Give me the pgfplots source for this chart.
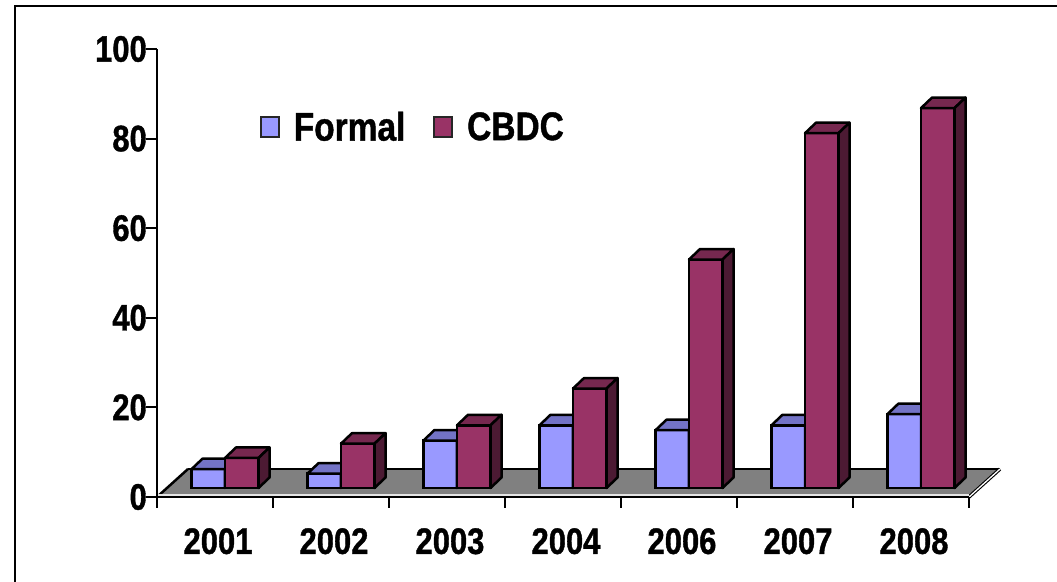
\documentclass[border=0pt]{standalone}
\usepackage{pgfplots}
\usepackage{pgfplotstable}
\pgfplotsset{compat=1.18}
\usepackage{fontspec}
\setmainfont{Liberation Sans}[FakeStretch=0.84, BoldFeatures={FakeBold=1}]
\definecolor{formalfront}{HTML}{9999FF}
\definecolor{formaltop}{HTML}{7373C6}
\definecolor{formalside}{HTML}{4D4D80}
\definecolor{cbdcfront}{HTML}{993366}
\definecolor{cbdctop}{HTML}{76284F}
\definecolor{cbdcside}{HTML}{4C1A33}
\definecolor{floorgray}{HTML}{808080}
\pgfdeclareplotmark{blank}{}
\pgfplotstableread{
x formal cbdc
0.5 4.2 6.7
1.5 3.2 9.9
2.5 10.6 14.0
3.5 14.0 22.2
4.5 12.9 51.0
5.5 14.0 79.2
6.5 16.5 84.8
}\data
\newcommand{\chartfont}{\bfseries\fontsize{37}{40}\selectfont}
\newcommand{\legendfont}{\bfseries\fontsize{40}{42}\selectfont}
\pgfplotsset{
  bar3d/.style n args={3}{%
    forget plot, only marks, mark=blank, scatter,
    point meta=explicit symbolic,
    scatter/@pre marker code/.code={%
      \edef\ry{\pgfplotspointmeta}%
      \filldraw[fill=#1, draw=black, line width=2.5bp, line join=round]
        (-16.75bp,0pt) rectangle (16.75bp,{-\ry*4.48bp});
      \filldraw[fill=#2, draw=black, line width=2.5bp, line join=round]
        (-16.75bp,0pt) -- (-5.75bp,10.5bp) -- (27.75bp,10.5bp) -- (16.75bp,0pt) -- cycle;
      \filldraw[fill=#3, draw=black, line width=2.5bp, line join=round]
        (16.75bp,0pt) -- (27.75bp,10.5bp) -- (27.75bp,{10.5bp-\ry*4.48bp}) -- (16.75bp,{-\ry*4.48bp}) -- cycle;
    },
    scatter/@post marker code/.code={},
  },
  sqlegend/.style={legend image code/.code={%
      \draw[##1, draw=black!85, line width=1.8bp] (0bp,-10bp) rectangle (18bp,10bp);}},
}
\begin{document}
\begin{tikzpicture}
\draw[line width=2.7bp] (15bp,-5bp) -- (15bp,576bp) -- (1065bp,576bp);
\begin{axis}[
  at={(157bp,85bp)}, anchor=south west,
  x=116bp, y=4.48bp,
  xmin=0, xmax=7, ymin=0, ymax=100,
  axis lines=left, axis line style={-, line width=2bp},
  axis on top,
  clip=false,
  tick align=outside,
  major tick length=11bp,
  tick style={line width=2bp, black},
  xtick={0,...,7}, x tick label as interval,
  xticklabels={2001,2002,2003,2004,2006,2007,2008},
  ytick={0,20,...,100}, yticklabels={0,20,40,60,80,100},
  ticklabel style={font=\chartfont, inner sep=0pt},
  xticklabel style={yshift=-20bp, xshift=3bp},
  yticklabel style={xshift=1bp},
]
\fill[floorgray] (axis cs:0,0) -- (axis cs:7,0) -- ([shift={(31bp,28bp)}]axis cs:7,0) -- ([shift={(31bp,28bp)}]axis cs:0,0) -- cycle;
\draw[black, line width=2bp] ([shift={(31bp,28bp)}]axis cs:0,0) -- ([shift={(31bp,28bp)}]axis cs:7,0);
\draw[black, line width=2.5bp] (axis cs:0,0) -- ([shift={(31bp,28bp)}]axis cs:0,0);
\draw[black, line width=3.5bp] (axis cs:7,0) -- ([shift={(31bp,28bp)}]axis cs:7,0);
\draw[white, line width=1.3bp] (axis cs:7,0) -- ([shift={(31bp,28bp)}]axis cs:7,0);
\draw[white!80!gray, line width=1.5bp] ([yshift=2bp]axis cs:0,0) -- ([yshift=2bp]axis cs:7,0);
\end{axis}
\begin{axis}[
  at={(167bp,94bp)}, anchor=south west,
  x=116bp, y=4.48bp,
  xmin=0, xmax=7, ymin=0, ymax=100,
  hide axis, clip=false,
  legend style={at={(0.1145,0.806)}, anchor=west, draw=none, fill=none,
    inner sep=0pt, outer sep=0pt, legend columns=2,
    font=\legendfont,
    nodes={inner sep=0pt},
    /tikz/every odd column/.style={column sep=14bp},
    /tikz/every even column/.style={column sep=28bp}},
]
\addplot[ybar, bar width=0.289, bar shift=-0.1445, fill=formalfront, draw=black, line width=2.5bp, sqlegend] table[x=x, y=formal]{\data};
\addlegendentry{Formal}
\addplot[ybar, bar width=0.289, bar shift=0.1445, fill=cbdcfront, draw=black, line width=2.5bp, sqlegend] table[x=x, y=cbdc]{\data};
\addlegendentry{CBDC}
\addplot[bar3d={formalfront}{formaltop}{formalside}] table[x expr=\thisrow{x}-0.1445, y=formal, meta=formal]{\data};
\addplot[bar3d={cbdcfront}{cbdctop}{cbdcside}] table[x expr=\thisrow{x}+0.1445, y=cbdc, meta=cbdc]{\data};
\end{axis}
\pgfresetboundingbox
\useasboundingbox (0,0) rectangle (1057bp,582bp);
\end{tikzpicture}
\end{document}
